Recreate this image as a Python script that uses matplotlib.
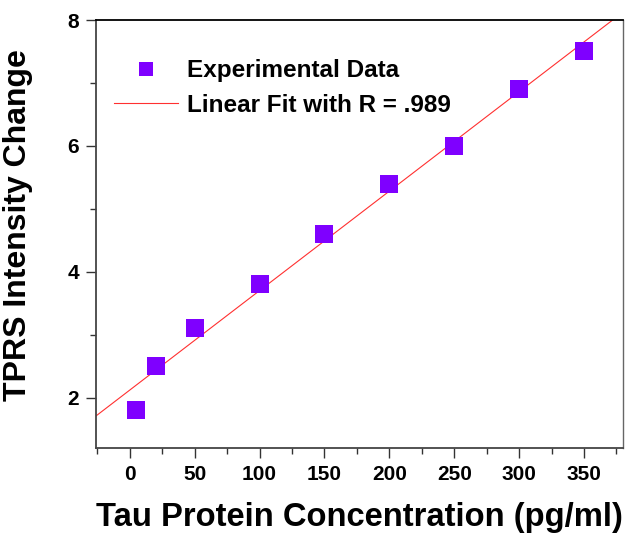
import numpy as np
import matplotlib.pyplot as plt
from matplotlib.ticker import MultipleLocator

plt.rcParams['font.family'] = ['Liberation Sans', 'DejaVu Sans']
plt.rcParams['font.weight'] = 'bold'

# data
conc = [5, 20, 50, 100, 150, 200, 250, 300, 350]
tprs = [1.8, 2.5, 3.1, 3.8, 4.6, 5.4, 6.0, 6.9, 7.5]

xlim = (-26, 380)
ylim = (1.2, 8)

fig = plt.figure(figsize=(6.34, 5.45), dpi=100)
ax = fig.add_axes([0.1514, 0.178, 0.8312, 0.7853])

# linear fit through the points
slope, intercept = np.polyfit(conc, tprs, 1)
xfit = np.array(xlim)
ax.plot(xfit, slope * xfit + intercept, color='#ff3030', lw=0.8,
        label='Linear Fit with R = .989', zorder=2)
ax.plot(conc, tprs, 's', color='#7f00ff', ms=13.5, mew=0,
        label='Experimental Data', zorder=3)

ax.set_xlim(*xlim)
ax.set_ylim(*ylim)
ax.xaxis.set_major_locator(MultipleLocator(50))
ax.xaxis.set_minor_locator(MultipleLocator(25))
ax.yaxis.set_major_locator(MultipleLocator(2))
ax.yaxis.set_minor_locator(MultipleLocator(1))
ax.tick_params(which='both', direction='out', labelsize=15, width=1.0, color='#333333')
ax.tick_params(which='major', length=7, pad=5)
ax.tick_params(which='minor', length=4)
ax.tick_params(top=False, right=False)

for side in ['left', 'bottom']:
    ax.spines[side].set_color('#444444')
    ax.spines[side].set_linewidth(1.3)
ax.spines['top'].set_color('black')
ax.spines['top'].set_linewidth(1.3)
ax.spines['right'].set_color('#666666')
ax.spines['right'].set_linewidth(1.0)

ax.set_xlabel('Tau Protein Concentration (pg/ml)', fontsize=23.6, fontweight='bold', labelpad=13)
ax.set_ylabel('TPRS Intensity Change', fontsize=23, fontweight='bold')
ax.yaxis.set_label_coords(-0.12, 0.52)

handles, labels = ax.get_legend_handles_labels()
ax.legend(handles[::-1], labels[::-1], loc='upper left', bbox_to_anchor=(0.034, 0.908),
          frameon=False, fontsize=17.5, handlelength=2.63, handletextpad=0.37,
          labelspacing=0.46, markerscale=0.78, borderpad=0, borderaxespad=0)

fig.savefig('out.png', dpi=100)
